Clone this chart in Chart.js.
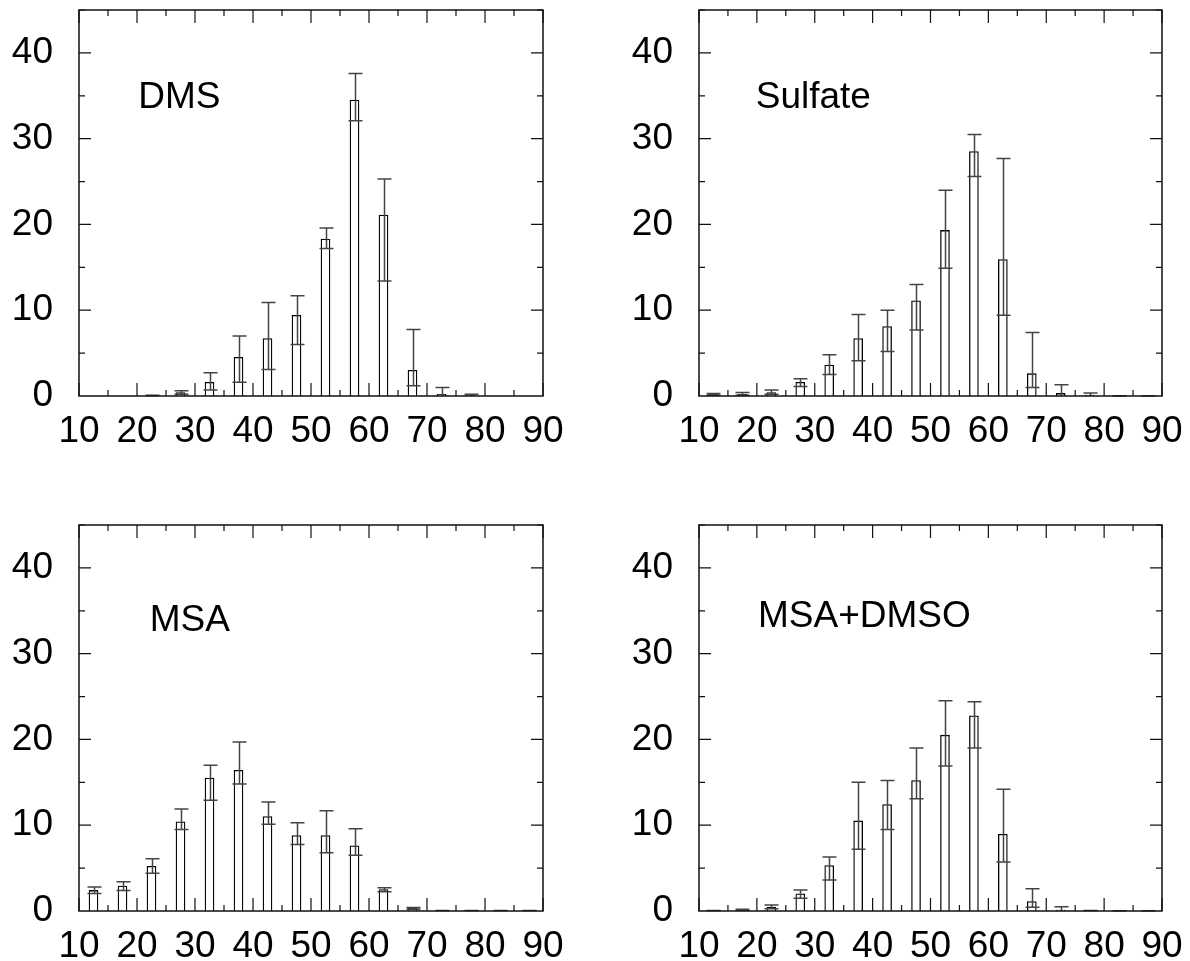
<!DOCTYPE html>
<html>
<head>
<meta charset="utf-8">
<script src="https://cdn.jsdelivr.net/npm/chart.js@4.4.1/dist/chart.umd.min.js"></script>
<style>
  body { margin: 0; background: #fff; width: 1190px; height: 961px; position: relative; overflow: hidden; }
  canvas { position: absolute; }
</style>
</head>
<body>
<canvas id="dmsChart" width="570" height="470" style="left:0;top:0"></canvas>
<canvas id="sulfateChart" width="570" height="470" style="left:620px;top:0"></canvas>
<canvas id="msaChart" width="570" height="470" style="left:0;top:515px"></canvas>
<canvas id="dmsoChart" width="570" height="470" style="left:620px;top:515px"></canvas>
<script>
// bin centres (x axis, 5-unit bins from 10 to 90)
var binCenters = [12.5, 17.5, 22.5, 27.5, 32.5, 37.5, 42.5, 47.5, 52.5, 57.5, 62.5, 67.5, 72.5, 77.5, 82.5, 87.5];
var xTickLabels = [10, 20, 30, 40, 50, 60, 70, 80, 90];
var yTickLabels = [0, 10, 20, 30, 40];

// DMS
var dmsValues = [0, 0, 0.1, 0.4, 1.6, 4.5, 6.7, 9.4, 18.3, 34.5, 21.1, 3.0, 0.2, 0.05, 0, 0];
var dmsLow    = [0, 0, 0.05, 0.2, 0.7, 1.6, 3.1, 6.0, 17.2, 32.1, 13.4, 1.2, 0, 0, 0, 0];
var dmsHigh   = [0, 0, 0.1, 0.6, 2.7, 7.0, 10.9, 11.7, 19.6, 37.6, 25.3, 7.75, 1.0, 0.2, 0, 0];

// Sulfate
var sulfateValues = [0.2, 0.2, 0.4, 1.6, 3.6, 6.7, 8.1, 11.1, 19.3, 28.5, 15.9, 2.6, 0.3, 0.1, 0.02, 0.02];
var sulfateLow    = [0.1, 0.1, 0.2, 1.1, 2.5, 4.1, 5.2, 7.7, 14.9, 25.6, 9.4, 1.0, 0, 0, 0, 0];
var sulfateHigh   = [0.3, 0.4, 0.7, 2.0, 4.8, 9.5, 10.0, 13.0, 24.0, 30.5, 27.7, 7.4, 1.3, 0.35, 0.02, 0.02];

// MSA
var msaValues = [2.4, 2.9, 5.2, 10.4, 15.5, 16.4, 11.0, 8.8, 8.8, 7.6, 2.5, 0.3, 0.05, 0.05, 0.05, 0.05];
var msaLow    = [2.05, 2.4, 4.4, 9.5, 12.9, 14.8, 10.1, 7.75, 6.8, 6.5, 2.25, 0.2, 0, 0, 0, 0];
var msaHigh   = [2.8, 3.4, 6.1, 11.9, 17.0, 19.7, 12.7, 10.3, 11.7, 9.6, 2.7, 0.4, 0.05, 0.05, 0.05, 0.05];

// MSA+DMSO
var dmsoValues = [0.05, 0.15, 0.45, 2.0, 5.3, 10.5, 12.4, 15.2, 20.5, 22.75, 8.95, 1.1, 0.1, 0.05, 0.02, 0.02];
var dmsoLow    = [0, 0.1, 0.25, 1.5, 3.6, 7.2, 9.5, 13.1, 16.9, 19.0, 5.7, 0.45, 0, 0, 0, 0];
var dmsoHigh   = [0.05, 0.2, 0.7, 2.45, 6.3, 15.0, 15.2, 19.0, 24.5, 24.4, 14.2, 2.6, 0.5, 0.05, 0.02, 0.02];

var FONT = "'Liberation Sans', Arial, Helvetica, sans-serif";

// frame with inward ticks on all four sides + error bars + panel label
var panelPlugin = {
    id: 'panelPlugin',
    afterDatasetsDraw: function (chart, args, opts) {
        var ctx = chart.ctx;
        var xs = chart.scales.x, ys = chart.scales.y;
        var a = chart.chartArea;
        ctx.save();

        // error bars
        ctx.strokeStyle = '#444';
        ctx.lineWidth = 1.5;
        opts.low.forEach(function (lo, i) {
            var hi = opts.high[i];
            if (hi <= lo) return;
            var px = Math.round(xs.getPixelForValue(binCenters[i])) + 0.5;
            var yl = ys.getPixelForValue(lo), yh = ys.getPixelForValue(hi);
            ctx.beginPath();
            ctx.moveTo(px, yl); ctx.lineTo(px, yh);
            ctx.moveTo(px - 7, yh); ctx.lineTo(px + 7, yh);
            if (lo > 0) { ctx.moveTo(px - 7, yl); ctx.lineTo(px + 7, yl); }
            ctx.stroke();
        });

        // frame
        ctx.strokeStyle = '#111';
        ctx.lineWidth = 1.5;
        ctx.strokeRect(a.left, a.top, a.right - a.left, a.bottom - a.top);

        // ticks
        ctx.lineWidth = 1.2;
        ctx.beginPath();
        for (var v = 10; v <= 90; v += 5) {
            var x = xs.getPixelForValue(v);
            var len = (v % 10 === 0) ? 13 : 6;
            ctx.moveTo(x, a.top); ctx.lineTo(x, a.top + len);
            ctx.moveTo(x, a.bottom); ctx.lineTo(x, a.bottom - len);
        }
        for (var w = 5; w <= 45; w += 5) {
            var y = ys.getPixelForValue(w);
            var l2 = (w % 10 === 0) ? 12 : 6;
            ctx.moveTo(a.left, y); ctx.lineTo(a.left + l2, y);
            ctx.moveTo(a.right, y); ctx.lineTo(a.right - l2, y);
        }
        ctx.stroke();

        // panel label
        ctx.fillStyle = '#000';
        ctx.font = '37px ' + FONT;
        ctx.textAlign = 'left';
        ctx.textBaseline = 'alphabetic';
        ctx.fillText(opts.label, xs.getPixelForValue(opts.labelX), ys.getPixelForValue(opts.labelY));
        ctx.restore();
    }
};

function noPadding(s) {
    s.paddingTop = 0; s.paddingBottom = 0;
    s.paddingLeft = 0; s.paddingRight = 0;
}

function makePanel(id, values, low, high, label, labelX, labelY, padRight) {
    var ctx = document.getElementById(id).getContext('2d');
    return new Chart(ctx, {
        type: 'bar',
        data: {
            datasets: [{
                data: binCenters.map(function (c, i) { return { x: c, y: values[i] }; }),
                backgroundColor: '#fff',
                borderColor: '#000',
                borderWidth: 1.3,
                barThickness: 9,
                borderSkipped: 'bottom'
            }]
        },
        options: {
            responsive: false,
            animation: false,
            layout: { padding: { top: 10, right: padRight, left: 0, bottom: 0 } },
            plugins: {
                legend: { display: false },
                tooltip: { enabled: false },
                panelPlugin: { low: low, high: high, label: label, labelX: labelX, labelY: labelY }
            },
            scales: {
                x: {
                    type: 'linear',
                    offset: false,
                    min: 10, max: 90,
                    grid: { display: false, drawTicks: false, offset: false },
                    border: { display: false },
                    afterFit: function (s) { s.height = 74; noPadding(s); },
                    afterBuildTicks: function (s) { s.ticks = xTickLabels.map(function (v) { return { value: v }; }); },
                    ticks: {
                        autoSkip: false, maxRotation: 0,
                        padding: 14,
                        color: '#000',
                        font: { family: FONT, size: 37 }
                    }
                },
                y: {
                    min: 0, max: 45,
                    grid: { display: false, drawTicks: false },
                    border: { display: false },
                    afterFit: function (s) { s.width = 79; noPadding(s); },
                    afterBuildTicks: function (s) { s.ticks = yTickLabels.map(function (v) { return { value: v }; }); },
                    ticks: {
                        padding: 26,
                        color: '#000',
                        font: { family: FONT, size: 37 }
                    }
                }
            }
        },
        plugins: [panelPlugin]
    });
}

makePanel('dmsChart', dmsValues, dmsLow, dmsHigh, 'DMS', 20.2, 33.6, 27);
makePanel('sulfateChart', sulfateValues, sulfateLow, sulfateHigh, 'Sulfate', 19.8, 33.6, 28);
makePanel('msaChart', msaValues, msaLow, msaHigh, 'MSA', 22.2, 32.6, 27);
makePanel('dmsoChart', dmsoValues, dmsoLow, dmsoHigh, 'MSA+DMSO', 20.2, 33.1, 28);
</script>
</body>
</html>
